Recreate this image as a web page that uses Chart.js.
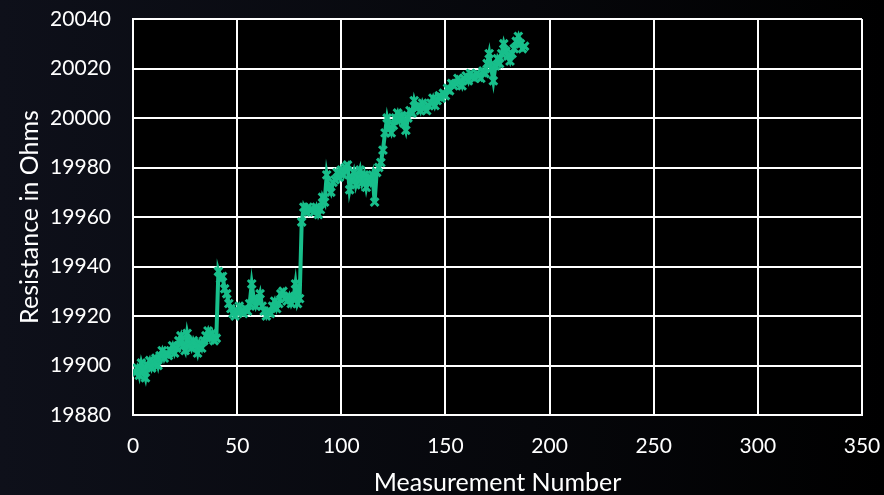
<!DOCTYPE html>
<html>
<head>
<meta charset="utf-8">
<script src="https://cdn.jsdelivr.net/npm/chart.js@4"></script>
<style>
  html, body { margin: 0; padding: 0; }
  body {
    width: 884px; height: 495px; overflow: hidden;
    background: linear-gradient(to right, #0e101a 0%, #06070b 60%, #000 100%);
  }
  #wrap { position: relative; width: 884px; height: 495px; }
</style>
</head>
<body>
<div id="wrap"><canvas id="myChart"></canvas></div>
<script>
// resistance readings, one per measurement (measurement 1 .. 188)
const resistance = [
  19897, 19899, 19896, 19901, 19898, 19895, 19900, 19902, 19899, 19901,
  19903, 19900, 19904, 19906, 19903, 19905, 19904, 19906, 19908, 19905,
  19907, 19910, 19912, 19908, 19906, 19913, 19909, 19907, 19910, 19908,
  19905, 19909, 19907, 19910, 19912, 19914, 19911, 19913, 19910, 19911,
  19938, 19935, 19936, 19931, 19929, 19925, 19923, 19921, 19920, 19922,
  19924, 19922, 19921, 19923, 19922, 19925, 19933, 19927, 19924, 19926,
  19929, 19924, 19922, 19920, 19922, 19921, 19924, 19926, 19923, 19925,
  19929, 19930, 19927, 19926, 19928, 19925, 19927, 19933, 19925, 19927,
  19958, 19964, 19962, 19964, 19963, 19963, 19962, 19964, 19961, 19963,
  19968, 19966, 19977, 19972, 19970, 19974, 19975, 19978, 19976, 19979,
  19977, 19980, 19981, 19971, 19975, 19978, 19973, 19976, 19979, 19974,
  19977, 19972, 19976, 19974, 19977, 19966, 19978, 19980, 19982, 19987,
  19994, 20000, 19996, 19994, 19997, 20000, 20002, 19999, 20001, 19998,
  19995, 20000, 20003, 20002, 20007, 20004, 20005, 20003, 20006, 20004,
  20003, 20005, 20006, 20008, 20005, 20007, 20009, 20008, 20010, 20009,
  20012, 20011, 20014, 20013, 20014, 20016, 20015, 20013, 20016, 20017,
  20015, 20018, 20017, 20016, 20018, 20017, 20016, 20019, 20018, 20022,
  20026, 20020, 20015, 20021, 20024, 20022, 20026, 20030, 20027, 20025,
  20023, 20026, 20028, 20031, 20033, 20030, 20028, 20029
];

const xTicks = [0, 50, 100, 150, 200, 250, 300, 350];
const yTicks = [19880, 19900, 19920, 19940, 19960, 19980, 20000, 20020, 20040];

const points = resistance.map((r, i) => ({ x: i + 1, y: r }));

const FONT = 'Lato, "Open Sans", "DejaVu Sans", sans-serif';
const lineColor = '#18bf8b';

// black plot area
const plotBg = {
  id: 'plotBg',
  beforeDraw(chart) {
    const { ctx, chartArea: a } = chart;
    ctx.save();
    ctx.fillStyle = '#000';
    ctx.fillRect(a.left, a.top, a.right - a.left, a.bottom - a.top);
    ctx.restore();
  }
};

const ctx = document.getElementById('myChart');

new Chart(ctx, {
  type: 'line',
  data: {
    datasets: [{
      data: points,
      borderColor: lineColor,
      backgroundColor: lineColor,
      borderWidth: 4,
      pointStyle: 'crossRot',
      pointRadius: 5.5,
      pointBorderWidth: 3,
      pointBorderColor: lineColor,
      tension: 0
    }]
  },
  options: {
    responsive: true,
    maintainAspectRatio: false,
    animation: false,
    layout: { padding: { top: 19, right: 22, left: 0, bottom: 0 } },
    plugins: { legend: { display: false }, tooltip: { enabled: false } },
    scales: {
      x: {
        type: 'linear',
        min: 0, max: 350,
        afterBuildTicks: s => { s.ticks = xTicks.map(v => ({ value: v })); },
        afterFit: s => { s.height = 80; s.paddingLeft = 0; s.paddingRight = 0; },
        grid: { color: '#ffffff', lineWidth: 2, drawTicks: false },
        border: { color: '#ffffff', width: 2 },
        ticks: { color: '#ffffff', font: { family: FONT, size: 21 }, padding: 19, maxRotation: 0 },
        title: {
          display: true, text: 'Measurement Number', color: '#ffffff',
          font: { family: FONT, size: 25 }, padding: { top: 0, bottom: -3 }
        }
      },
      y: {
        type: 'linear',
        min: 19880, max: 20040,
        afterBuildTicks: s => { s.ticks = yTicks.map(v => ({ value: v })); },
        afterFit: s => { s.width = 133; s.paddingTop = 0; s.paddingBottom = 0; },
        grid: { color: '#ffffff', lineWidth: 2, drawTicks: false },
        border: { color: '#ffffff', width: 2 },
        ticks: { color: '#ffffff', font: { family: FONT, size: 21 }, padding: 22, callback: v => String(v) },
        title: {
          display: true, text: 'Resistance in Ohms', color: '#ffffff',
          font: { family: FONT, size: 25 }, padding: { top: 15, bottom: 0 }
        }
      }
    }
  },
  plugins: [plotBg]
});
</script>
</body>
</html>
